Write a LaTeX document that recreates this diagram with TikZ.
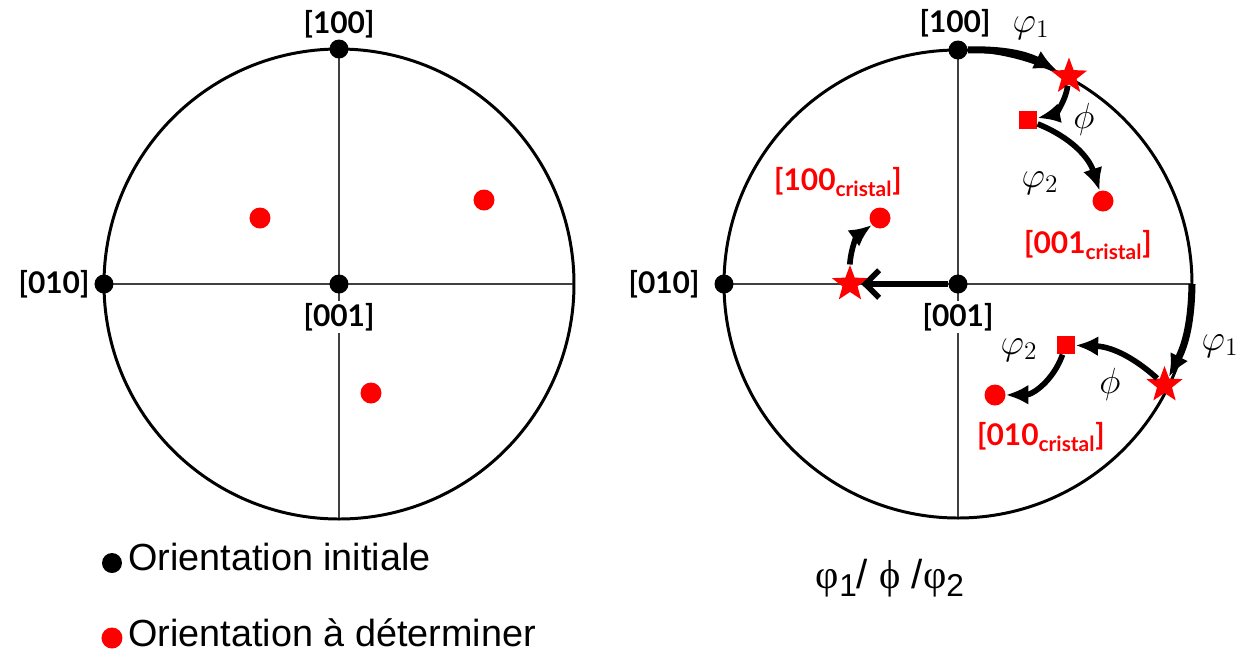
\documentclass[tikz,border=0pt]{standalone}
\usepackage[no-math]{fontspec}
\setmainfont{Liberation Sans}
\newfontfamily\lblfont{Lato}
\newfontfamily\grkfont{Liberation Serif}
\usetikzlibrary{shapes.geometric,arrows.meta}

\tikzset{
  axe/.style={black!75, line width=0.6pt},
  cercle/.style={line width=1.7pt},
  noir/.style={circle, fill=black, inner sep=0pt, minimum size=0.38cm},
  rouge/.style={circle, fill=red, inner sep=0pt, minimum size=0.42cm},
  carre/.style={rectangle, fill=red, inner sep=0pt, minimum size=0.37cm},
  etoile/.style={star, star points=5, star point ratio=2.4, fill=red, inner sep=0pt, minimum size=0.76cm},
  dir/.style={font=\lblfont\bfseries\fontsize{17}{18}\selectfont, fill=white, inner sep=1pt},
  dirc/.style={dir, text=red},
  eul/.style={font=\fontsize{22}{23}\selectfont, inner sep=0pt},
  fl/.style={line width=3.2pt, -{Latex[length=0.45cm,width=0.4cm]}},
  leg/.style={font=\fontsize{21.5}{24}\selectfont, anchor=west, inner sep=0pt},
}

\begin{document}
\begin{tikzpicture}
\useasboundingbox (-6.78,-7.44) rectangle (18.12,5.68);

% projection initiale
\coordinate (o1) at (0,0);
\draw[axe] (-4.7,0) -- (4.7,0);
\draw[axe] (0,-4.7) -- (0,4.7);
\draw[cercle] (o1) circle (4.7);
\node[dir] (lh1) at (0,5.2) {[100]};
\node[dir] (lg1) at (-5.7,0) {[010]};
\node[dir] (lc1) at (0,-0.66) {[001]};
\node[noir] (h1) at (0,4.7) {};
\node[noir] (g1) at (-4.7,0) {};
\node[noir] (c1) at (o1) {};
\node[rouge] (a1) at (-1.58,1.32) {};
\node[rouge] (b1) at (2.9,1.68) {};
\node[rouge] (d1) at (0.64,-2.18) {};

% rotations d'Euler
\coordinate (o2) at (12.38,0);
\coordinate (e0) at (17.06,0);
\draw[axe] (7.7,0) -- (17.06,0);
\draw[axe] (12.38,-4.68) -- (12.38,4.68);
\draw[cercle] (o2) circle (4.68);
\node[dir] (lh2) at (12.32,5.22) {[100]};
\node[dir] (lg2) at (6.5,0) {[010]};
\node[dir] (lc2) at (12.38,-0.66) {[001]};
\node[noir] (h2) at (12.38,4.68) {};
\node[noir] (g2) at (7.7,0) {};
\node[noir] (c2) at (o2) {};

\node[etoile] (s1) at (14.6,4.15) {};
\node[carre] (q1) at (13.78,3.28) {};
\node[rouge] (r1) at (15.28,1.66) {};
\node[eul] at (13.84,5.12) {$\varphi_1$};
\node[eul] at (14.9,3.3) {$\phi$};
\node[eul] at (14.02,2.02) {$\varphi_2$};
\node[dirc] (lr1) at (14.98,0.78) {[001\textsubscript{cristal}]};
\draw[fl, line width=4pt] (h2) to[bend left=14] (s1);
\draw[fl] (s1) to[bend left=35] (q1);
\draw[fl] (q1) to[bend left=25] (r1);

\node[etoile] (s2) at (16.51,-2.02) {};
\node[carre] (q2) at (14.54,-1.22) {};
\node[rouge] (r2) at (13.12,-2.22) {};
\node[eul] at (17.62,-1.24) {$\varphi_1$};
\node[eul] at (15.42,-2.0) {$\phi$};
\node[eul] at (13.6,-1.32) {$\varphi_2$};
\node[dirc] (lr2) at (14.04,-3.06) {[010\textsubscript{cristal}]};
\draw[fl, line width=4pt] (e0) to[bend left=13] (s2);
\draw[fl] (s2) to[bend right=20] (q2);
\draw[fl] (q2) to[bend left=35] (r2);

\node[etoile] (s3) at (10.22,0) {};
\node[rouge] (r3) at (10.82,1.32) {};
\node[dirc] (lr3) at (9.98,2.04) {[100\textsubscript{cristal}]};
\draw[line width=3.2pt, -{Straight Barb[length=0.28cm,width=0.55cm]}] (c2) -- (s3);
\draw[fl] (s3) to[bend left=25] (r3);

% legende
\node[noir, minimum size=0.4cm] (k1) at (-4.54,-5.58) {};
\node[rouge, minimum size=0.42cm] (k2) at (-4.54,-7.08) {};
\node[leg] (t1) at (-4.22,-5.46) {Orientation initiale};
\node[leg] (t2) at (-4.22,-6.98) {Orientation à déterminer};
\node[font=\fontsize{23}{24}\selectfont] (t3) at (11.02,-5.88)
  {{\grkfont φ}\raisebox{-0.4ex}{\fontsize{18}{18}\selectfont 1}/ {\grkfont ϕ} /{\grkfont φ}\raisebox{-0.4ex}{\fontsize{18}{18}\selectfont 2}};
\end{tikzpicture}
\end{document}
